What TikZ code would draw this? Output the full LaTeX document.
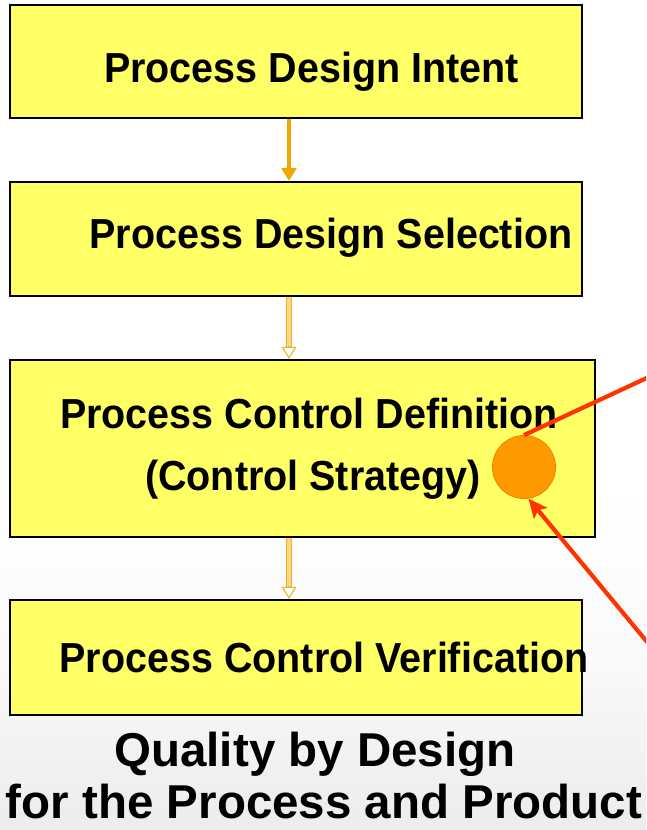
\documentclass[tikz,border=0pt]{standalone}
\usepackage{fontspec}
\setmainfont{Liberation Sans}
\newfontfamily\stagefont[FakeStretch=0.94]{Liberation Sans}
\usetikzlibrary{arrows.meta,shadows}

\definecolor{boxfill}{RGB}{255,255,102}
\definecolor{arrowA}{RGB}{240,168,0}
\definecolor{arrowBline}{RGB}{240,178,40}
\definecolor{arrowBfill}{RGB}{252,214,130}
\definecolor{dotfill}{RGB}{255,153,0}
\definecolor{dotedge}{RGB}{240,128,0}
\definecolor{pointer}{RGB}{255,51,0}
\definecolor{bglow}{RGB}{236,236,236}
\definecolor{bgmid}{RGB}{250,250,250}

\tikzset{
  stagebox/.style={draw=black, line width=2.3pt, fill=boxfill, inner sep=0pt,
    drop shadow={shadow xshift=1.2pt, shadow yshift=-1.2pt, opacity=0.3, fill=black}},
  stagetext/.style={anchor=base, inner sep=0pt, font=\stagefont\fontsize{42}{46}\selectfont\bfseries},
  titletext/.style={anchor=base, inner sep=0pt, font=\fontsize{47.5}{52}\selectfont\bfseries},
  solidarrow/.style={draw=arrowA, line width=3.6pt,
    -{Triangle[length=13pt, width=15pt]}},
  paleshaft/.style={draw=arrowBline, double=arrowBfill, double distance=3.4pt, line width=0.9pt},
  palehead/.style={draw=arrowBline, line width=1.1pt,
    -{Triangle[open, length=12pt, width=15pt, fill=white]}},
  pointerline/.style={draw=pointer, line width=4.2pt},
  pointerarrow/.style={draw=pointer, line width=4.2pt,
    -{Stealth[length=19pt, width=17pt, inset=4pt]}}
}

\begin{document}
\begin{tikzpicture}[x=1pt, y=-1pt]
  % page frame with a soft grey fade towards the bottom
  \useasboundingbox (0,0) rectangle (646,830);
  \fill[white] (0,0) rectangle (646,480);
  \shade[top color=white, bottom color=bglow, middle color=bgmid]
    (0,480) rectangle (646,830);
  \clip (0,0) rectangle (646,830);

  % the four stages
  \node[stagebox, minimum width=572pt, minimum height=113pt] (intent)    at (296,61.5) {};
  \node[stagebox, minimum width=572pt, minimum height=114pt] (selection) at (296,239) {};
  \node[stagebox, minimum width=585pt, minimum height=177pt] (control)   at (302.5,448.5) {};
  \node[stagebox, minimum width=572pt, minimum height=115pt] (verify)    at (296,657.5) {};

  \node[stagetext] (tIntent)    at (311.5,82)  {Process Design Intent};
  \node[stagetext] (tSelection) at (331,248)   {Process Design Selection};
  \node[stagetext] (tControlA)  at (309,428)   {Process Control Definition};
  \node[stagetext] (tControlB)  at (313,490)   {(Control Strategy)};
  \node[stagetext] (tVerify)    at (324,672)   {Process Control Verification};

  % connectors between the stages
  \coordinate (ax) at (289,0);
  \draw[solidarrow] (intent.south -| ax) -- (selection.north -| ax);

  \draw[paleshaft] (selection.south -| ax) -- ([yshift=11pt]control.north -| ax);
  \draw[palehead]  ([yshift=13pt]control.north -| ax) -- (control.north -| ax);

  \draw[paleshaft] (control.south -| ax) -- ([yshift=11pt]verify.north -| ax);
  \draw[palehead]  ([yshift=13pt]verify.north -| ax) -- (verify.north -| ax);

  % highlighted point with its two pointer lines
  \node[circle, fill=dotfill, draw=dotedge, line width=0.8pt, minimum size=63pt, inner sep=0pt]
    (dot) at (524,467) {};
  \coordinate (outA) at (666,369);
  \coordinate (outB) at (662,660);
  \draw[pointerline]  (dot.north) -- (outA);
  \draw[pointerarrow] (outB) -- (dot.-82);

  % caption
  \node[titletext] (title1) at (315,766) {Quality by Design};
  \node[titletext] (title2) at (324,818) {for the Process and Product};
\end{tikzpicture}
\end{document}
